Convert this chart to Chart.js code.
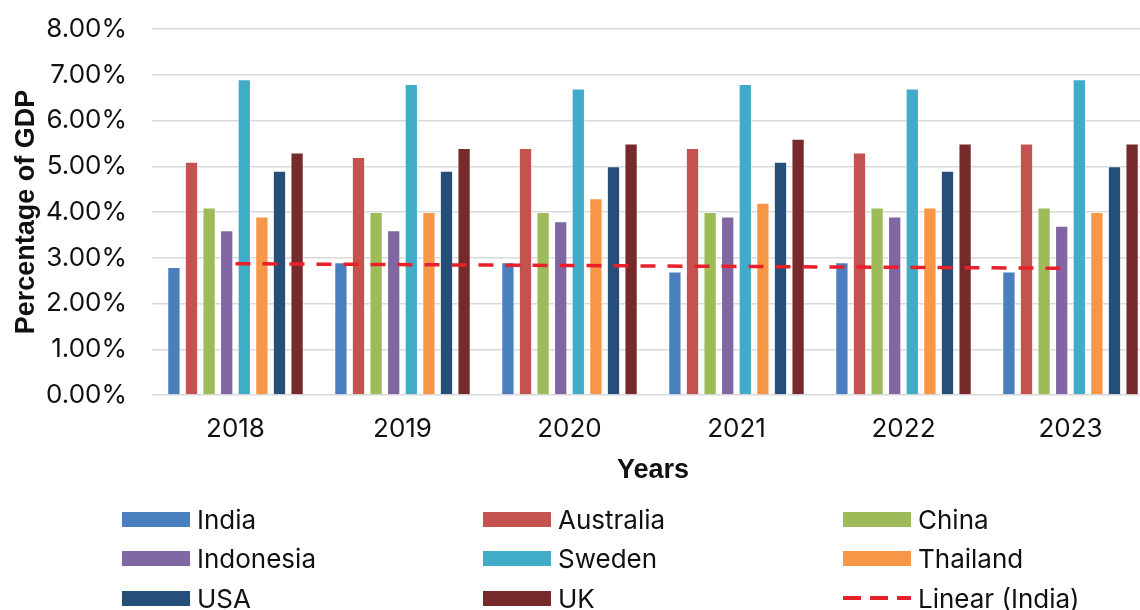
<!DOCTYPE html>
<html lang="en">
  <head>
    <meta charset="UTF-8" />
    <title>Percentage of GDP</title>
    <style>
      html, body { margin: 0; padding: 0; background: #fff; overflow: hidden; }
      body { width: 1140px; height: 610px; position: relative; font-family: Inter, sans-serif; }
      #wrap { position: absolute; left: 0; top: 0; width: 1156px; height: 490px; }
      #legend { position: absolute; left: 0; top: 0; width: 1140px; height: 610px; pointer-events: none; }
      .item { position: absolute; display: flex; align-items: center; font-size: 26px; color: #111; white-space: nowrap; }
      .swatch { width: 68px; height: 15px; margin-right: 7px; }
      .dash { width: 68px; height: 4px; margin-right: 7px;
              background: repeating-linear-gradient(90deg, #e8202a 0 18px, transparent 18px 27px); }
    </style>
  </head>
  <body>
    <div id="wrap"><canvas id="myChart"></canvas></div>
    <div id="legend"></div>

    <script src="https://cdn.jsdelivr.net/npm/chart.js"></script>
    <script>
      const years = ["2018", "2019", "2020", "2021", "2022", "2023"];
      const yTicks = [0, 1, 2, 3, 4, 5, 6, 7, 8];

      const india     = [2.8, 2.9, 2.9, 2.7, 2.9, 2.7];
      const australia = [5.1, 5.2, 5.4, 5.4, 5.3, 5.5];
      const china     = [4.1, 4.0, 4.0, 4.0, 4.1, 4.1];
      const indonesia = [3.6, 3.6, 3.8, 3.9, 3.9, 3.7];
      const sweden    = [6.9, 6.8, 6.7, 6.8, 6.7, 6.9];
      const thailand  = [3.9, 4.0, 4.3, 4.2, 4.1, 4.0];
      const usa       = [4.9, 4.9, 5.0, 5.1, 4.9, 5.0];
      const uk        = [5.3, 5.4, 5.5, 5.6, 5.5, 5.5];
      // trend line end points
      const linearIndia = [2.87, null, null, null, null, 2.77];

      Chart.defaults.font.family = "Inter, sans-serif";
      Chart.defaults.font.size = 26;
      Chart.defaults.color = "#111";

      const titleFont = { family: "'Liberation Sans', Arial, sans-serif", weight: "bold", size: 27 };

      function bar(label, data, color) {
        return {
          type: "bar",
          label: label,
          data: data,
          backgroundColor: color,
          borderColor: "rgba(255,255,255,0.55)",
          borderWidth: 1,
          barPercentage: 0.755,
          categoryPercentage: 0.843,
          order: 1,
        };
      }

      const ctx = document.getElementById("myChart");
      const myChart = new Chart(ctx, {
        data: {
          labels: years,
          datasets: [
            bar("India", india, "#4a7fbf"),
            bar("Australia", australia, "#c4524e"),
            bar("China", china, "#9dbb59"),
            bar("Indonesia", indonesia, "#8066a2"),
            bar("Sweden", sweden, "#40acc8"),
            bar("Thailand", thailand, "#f79646"),
            bar("USA", usa, "#254e78"),
            bar("UK", uk, "#772a2c"),
            {
              type: "line",
              label: "Linear (India)",
              data: linearIndia,
              spanGaps: true,
              borderColor: "#e8202a",
              borderWidth: 3.5,
              borderDash: [15, 12],
              pointRadius: 0,
              fill: false,
              order: 0,
            },
          ],
        },
        options: {
          responsive: true,
          maintainAspectRatio: false,
          animation: false,
          layout: { padding: { top: 29, right: 2, bottom: 0, left: 0 } },
          plugins: {
            legend: { display: false },
            tooltip: { enabled: false },
          },
          scales: {
            x: {
              afterFit: (s) => { s.height = 95; s.paddingLeft = 0; s.paddingRight = 0; },
              grid: { display: false, drawTicks: false },
              border: { display: false },
              ticks: { padding: 19 },
              title: {
                display: true,
                text: "Years",
                font: titleFont,
                padding: { top: 0, bottom: 3 },
              },
            },
            y: {
              min: 0,
              max: 8,
              afterBuildTicks: (s) => { s.ticks = yTicks.map((v) => ({ value: v })); },
              afterFit: (s) => { s.width = 152; s.paddingTop = 0; s.paddingBottom = 0; },
              grid: { color: "#d9d9d9", lineWidth: 1.5, drawTicks: false },
              border: { display: false },
              ticks: {
                padding: 25,
                callback: (v) => v.toFixed(2) + "%",
              },
              title: {
                display: true,
                text: "Percentage of GDP",
                font: titleFont,
                padding: { top: 10, bottom: 0 },
              },
            },
          },
        },
      });

      // legend in a 3 x 3 grid like the original
      const legend = document.getElementById("legend");
      const colX = [122, 483, 843];
      const rowY = [519, 558, 598];
      myChart.data.datasets.forEach((ds, i) => {
        const item = document.createElement("div");
        item.className = "item";
        item.style.left = colX[i % 3] + "px";
        item.style.top = (rowY[Math.floor(i / 3)] - 16) + "px";
        item.style.height = "32px";
        const sw = document.createElement("span");
        if (ds.type === "line") {
          sw.className = "dash";
        } else {
          sw.className = "swatch";
          sw.style.background = ds.backgroundColor;
        }
        const txt = document.createElement("span");
        txt.textContent = ds.label;
        item.appendChild(sw);
        item.appendChild(txt);
        legend.appendChild(item);
      });
    </script>
  </body>
</html>
